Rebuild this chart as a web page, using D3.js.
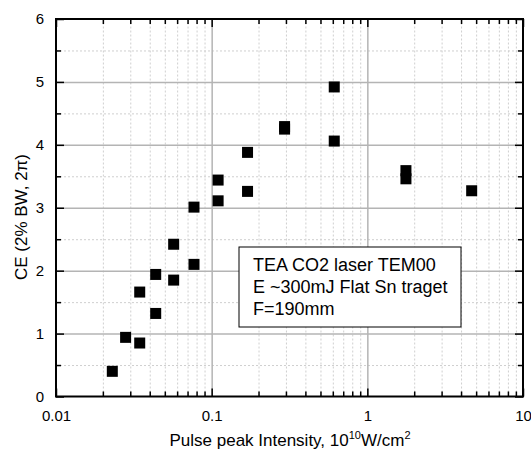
<!DOCTYPE html>
<html>
<head>
<meta charset="utf-8">
<script src="https://cdn.jsdelivr.net/npm/d3@7"></script>
<style>
  body { margin: 0; background: #fff; }
  svg { display: block; font-family: "Liberation Sans", Arial, sans-serif; }
  .grid-major line { stroke: #b4b4b4; stroke-width: 1.5; }
  .grid-minor line { stroke: #cfcfcf; stroke-width: 1; stroke-dasharray: 2,2; }
  .grid path, .ticks path { display: none; }
  .ticks line { stroke: #000; stroke-width: 1.5; }
  .ticks text { font-size: 15px; fill: #000; }
</style>
</head>
<body>
<svg id="chart" width="531" height="450"></svg>
<script>
// Pulse peak intensity (10^10 W/cm^2) and conversion efficiency (%)
const intensity = [0.023, 0.028, 0.0345, 0.0345, 0.0437, 0.0437, 0.057, 0.057,
  0.077, 0.077, 0.110, 0.110, 0.170, 0.170, 0.294, 0.294, 0.613, 0.613, 1.77, 1.77, 4.68];
const ce = [0.40, 0.94, 0.85, 1.66, 1.32, 1.94, 1.85, 2.42,
  2.10, 3.01, 3.11, 3.44, 3.26, 3.88, 4.29, 4.25, 4.06, 4.92, 3.59, 3.46, 3.27];

const xMajor = [0.01, 0.1, 1, 10];
const xMinor = [2, 3, 4, 5, 6, 7, 8, 9].flatMap((m) => [0.01, 0.1, 1].map((d) => m * d));
const yMajor = [0, 1, 2, 3, 4, 5, 6];
const yMinor = [0.5, 1.5, 2.5, 3.5, 4.5, 5.5];
const noteLines = ["TEA CO2 laser TEM00", "E ~300mJ Flat Sn traget", "F=190mm"];

const L = 56, R = 523, T = 19, B = 396.5;
const svg = d3.select("#chart");
const x = d3.scaleLog().domain([0.01, 10]).range([L, R]);
const y = d3.scaleLinear().domain([0, 6]).range([B, T]);

// grid: dotted minors first, solid majors over them
const grid = svg.append("g");
grid.append("g").attr("class", "grid grid-minor").attr("transform", `translate(0,${B})`)
  .call(d3.axisBottom(x).tickValues(xMinor).tickSize(-(B - T)).tickFormat(""));
grid.append("g").attr("class", "grid grid-minor").attr("transform", `translate(${L},0)`)
  .call(d3.axisLeft(y).tickValues(yMinor).tickSize(-(R - L)).tickFormat(""));
grid.append("g").attr("class", "grid grid-major").attr("transform", `translate(0,${B})`)
  .call(d3.axisBottom(x).tickValues(xMajor.slice(1, 3)).tickSize(-(B - T)).tickFormat(""));
grid.append("g").attr("class", "grid grid-major").attr("transform", `translate(${L},0)`)
  .call(d3.axisLeft(y).tickValues(yMajor.slice(1, 6)).tickSize(-(R - L)).tickFormat(""));

// inward ticks on all four sides
function ticks(axis, tr) {
  return svg.append("g").attr("class", "ticks").attr("transform", tr).call(axis);
}
ticks(d3.axisBottom(x).tickValues(xMajor).tickSize(-8).tickPadding(14).tickFormat(d3.format("")), `translate(0,${B})`);
ticks(d3.axisBottom(x).tickValues(xMinor).tickSize(-5).tickFormat(""), `translate(0,${B})`);
ticks(d3.axisTop(x).tickValues(xMajor).tickSize(-8).tickFormat(""), `translate(0,${T})`);
ticks(d3.axisTop(x).tickValues(xMinor).tickSize(-5).tickFormat(""), `translate(0,${T})`);
ticks(d3.axisLeft(y).tickValues(yMajor).tickSize(-8).tickPadding(12).tickFormat(d3.format("d")), `translate(${L},0)`);
ticks(d3.axisLeft(y).tickValues(yMinor).tickSize(-5).tickFormat(""), `translate(${L},0)`);
ticks(d3.axisRight(y).tickValues(yMajor).tickSize(-8).tickFormat(""), `translate(${R},0)`);
ticks(d3.axisRight(y).tickValues(yMinor).tickSize(-5).tickFormat(""), `translate(${R},0)`);

// frame
svg.append("rect").attr("x", L).attr("y", T).attr("width", R - L).attr("height", B - T)
  .attr("fill", "none").attr("stroke", "#000").attr("stroke-width", 2);

// data squares
const s = 11;
svg.append("g").selectAll("rect").data(intensity).join("rect")
  .attr("x", (d) => x(d) - s / 2)
  .attr("y", (d, i) => y(ce[i]) - s / 2)
  .attr("width", s).attr("height", s)
  .attr("fill", "#000");

// note box
const box = svg.append("g").attr("transform", "translate(239,247)");
box.append("rect").attr("width", 222).attr("height", 80)
  .attr("fill", "#fff").attr("stroke", "#000").attr("stroke-width", 1);
box.selectAll("text").data(noteLines).join("text")
  .attr("x", 14).attr("y", (d, i) => 24 + i * 22)
  .attr("font-size", 18).text((d) => d);

// axis titles
svg.append("text").attr("transform", "translate(27,217) rotate(-90)")
  .attr("text-anchor", "middle").attr("font-size", 17).text("CE (2% BW, 2\u03c0)");
const xt = svg.append("text").attr("x", 290).attr("y", 446)
  .attr("text-anchor", "middle").attr("font-size", 17);
xt.append("tspan").text("Pulse peak Intensity, 10");
xt.append("tspan").attr("font-size", 11).attr("dy", -7).text("10");
xt.append("tspan").attr("dy", 7).text("W/cm");
xt.append("tspan").attr("font-size", 11).attr("dy", -7).text("2");
</script>
</body>
</html>
